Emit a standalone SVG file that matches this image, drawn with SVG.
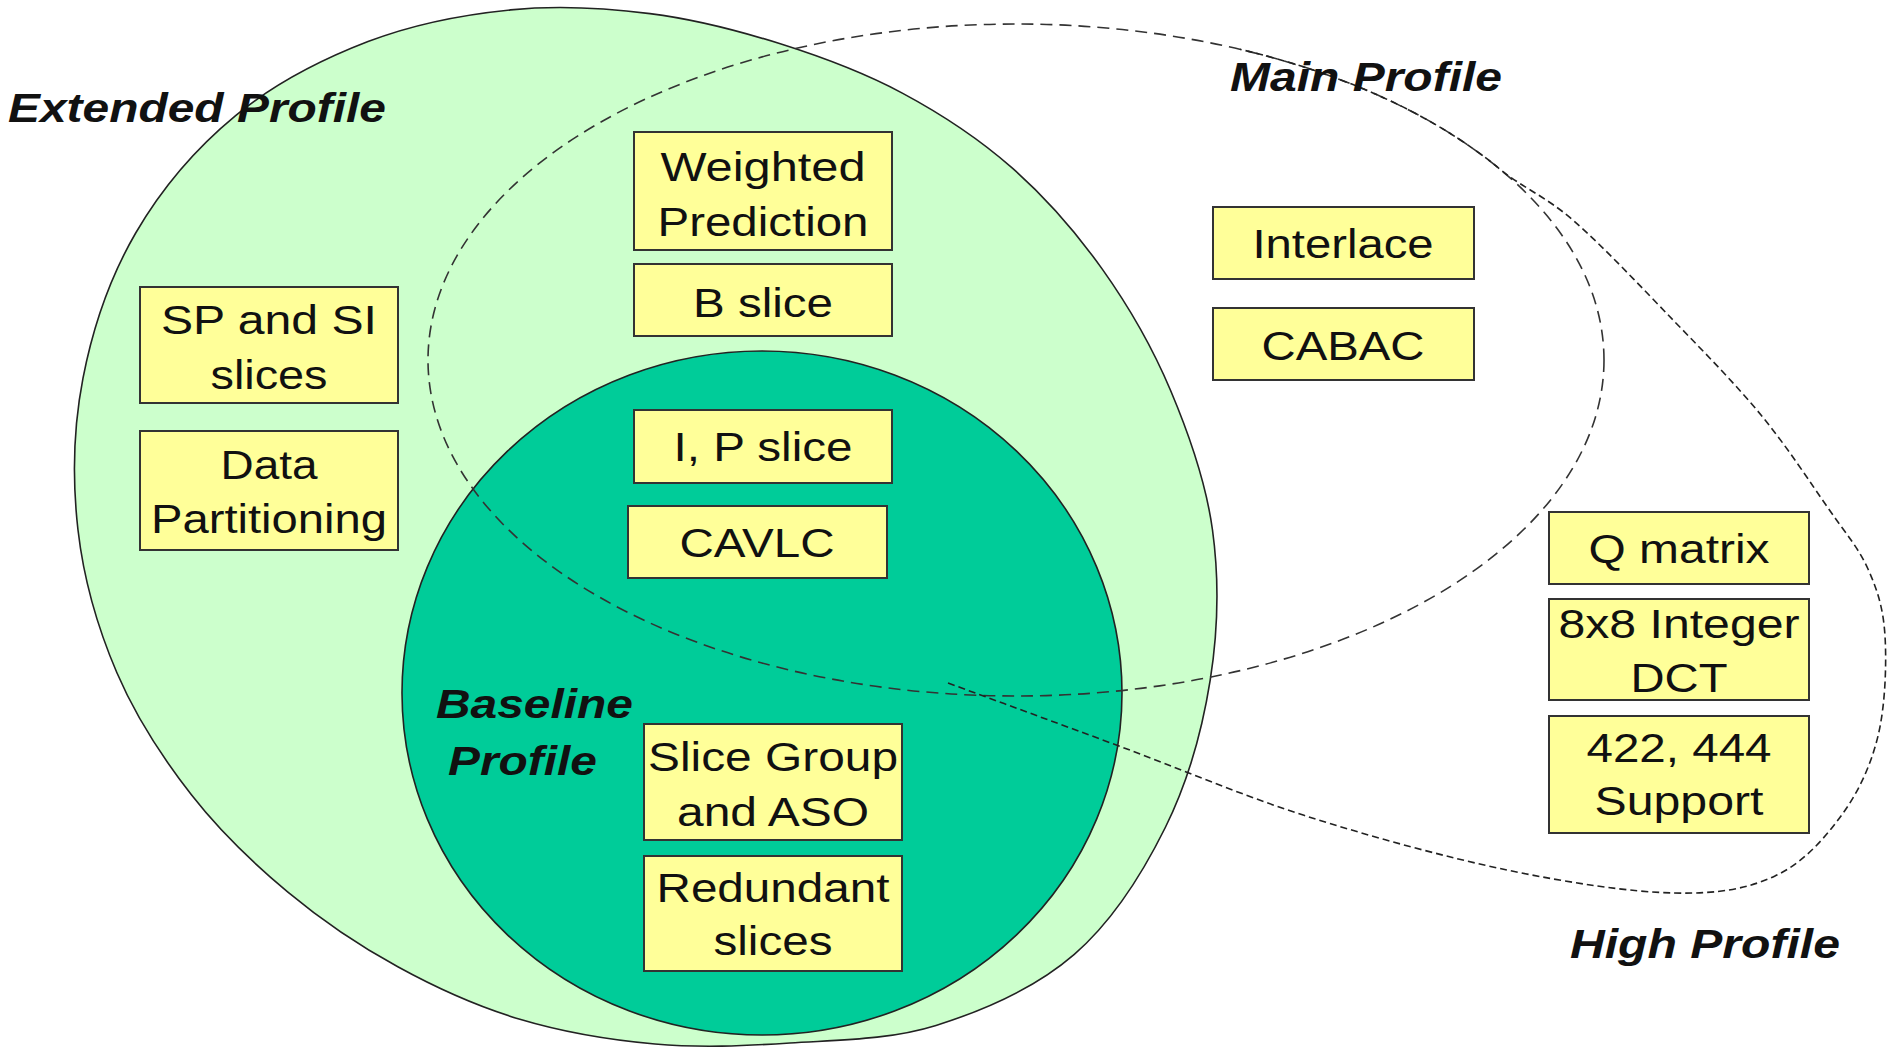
<svg xmlns="http://www.w3.org/2000/svg" width="1887" height="1049" viewBox="0 0 1887 1049">
<style>
.box{fill:#FFFF99;stroke:#333;stroke-width:2}
.t{font-family:"Liberation Sans",Arial,sans-serif;font-size:40px;fill:#111;text-anchor:middle}
.lbl{font-family:"Liberation Sans",Arial,sans-serif;font-size:40px;font-weight:bold;font-style:italic;fill:#111}
.dash{fill:none;stroke:#333;stroke-width:1.6;stroke-dasharray:12 7}
.dash2{fill:none;stroke:#222;stroke-width:1.6;stroke-dasharray:7 4}
</style>
<rect width="1887" height="1049" fill="#ffffff"/>
<g id="regions">
<path id="extended-region" d="M650,13.6 C694.95,19.25 738.25,30.55 780.3,43.8 C822.35,57.05 863.67,72.42 902.3,93.1 C940.93,113.78 978.8,138.6 1012.1,167.9 C1045.4,197.2 1075.68,231.8 1102.1,268.9 C1128.52,306 1152.2,346.98 1170.6,390.5 C1189,434.02 1205.9,481.73 1212.5,530 C1219.1,578.27 1218.07,630.52 1210.2,680.1 C1202.33,729.68 1187.95,781.8 1165.3,827.5 C1142.65,873.2 1112.52,921.32 1074.3,954.3 C1036.08,987.28 983.38,1010.62 936,1025.4 C888.62,1040.18 836.83,1039.9 790,1043 C743.17,1046.1 700.17,1048 655,1044 C609.83,1040 561.87,1031.87 519,1019 C476.13,1006.13 436.32,987.95 397.8,966.8 C359.28,945.68 322.3,920.77 287.9,892.1 C253.5,863.43 219.9,831.35 191.4,794.8 C162.9,758.25 135.8,716.93 116.9,672.8 C98,628.67 83.65,579.12 78,530 C72.35,480.88 73.38,427.6 83,378.1 C92.62,328.6 110.27,276.75 135.7,233 C161.13,189.25 196.88,147.5 235.6,115.6 C274.32,83.7 322.17,59.22 368,41.6 C413.83,23.98 463.6,14.57 510.6,9.9 C557.6,5.23 605.05,7.95 650,13.6 Z" fill="#CCFFCC" stroke="#222" stroke-width="1.6"/>
<ellipse id="baseline-region" cx="762" cy="693" rx="360" ry="342" fill="#00CC99" stroke="#222" stroke-width="1.6"/>
<ellipse id="main-region" class="dash" cx="1016" cy="360" rx="588" ry="336"/>
<path id="high-region" class="dash2" d="M948,683 C1005,704 1059.3,723.8 1119,746 C1178.7,768.2 1241.3,795.3 1306,816 C1370.7,836.7 1445.7,857.2 1507,870 C1568.3,882.8 1629.3,892 1674,893 C1718.7,894 1747.2,888.8 1775,876 C1802.8,863.2 1823.8,839.3 1841,816 C1858.2,792.7 1870.7,766 1878,736 C1885.3,706 1886.7,663.8 1885,636 C1883.3,608.2 1877.5,590.3 1868,569 C1858.5,547.7 1845.8,533.7 1828,508 C1810.2,482.3 1786.7,446.2 1761,415 C1735.3,383.8 1705.2,353.3 1674,321 C1642.8,288.7 1603,246.3 1574,221 C1545,195.7 1523,188.2 1500,169.2 A588,336 0 0 0 1240,49.3"/>
</g>
<g id="connectors"></g>
<g id="labels">
<text class="lbl" x="8" y="122" textLength="378" lengthAdjust="spacingAndGlyphs">Extended Profile</text>
<text class="lbl" x="1230" y="91" textLength="272" lengthAdjust="spacingAndGlyphs">Main Profile</text>
<text class="lbl" x="1570" y="958" textLength="270" lengthAdjust="spacingAndGlyphs">High Profile</text>
<text class="lbl" x="436" y="718" textLength="197" lengthAdjust="spacingAndGlyphs">Baseline</text>
<text class="lbl" x="448" y="775" textLength="149" lengthAdjust="spacingAndGlyphs">Profile</text>
</g>
<g id="sp-si">
<rect class="box" x="140" y="287" width="258" height="116"/>
<text class="t" x="269" y="334" textLength="216" lengthAdjust="spacingAndGlyphs">SP and SI</text>
<text class="t" x="269" y="389" textLength="117" lengthAdjust="spacingAndGlyphs">slices</text>
</g>
<g id="data-partitioning">
<rect class="box" x="140" y="431" width="258" height="119"/>
<text class="t" x="269" y="479" textLength="97" lengthAdjust="spacingAndGlyphs">Data</text>
<text class="t" x="269" y="533" textLength="236" lengthAdjust="spacingAndGlyphs">Partitioning</text>
</g>
<g id="weighted-prediction">
<rect class="box" x="634" y="132" width="258" height="118"/>
<text class="t" x="763" y="181" textLength="205" lengthAdjust="spacingAndGlyphs">Weighted</text>
<text class="t" x="763" y="236" textLength="211" lengthAdjust="spacingAndGlyphs">Prediction</text>
</g>
<g id="b-slice">
<rect class="box" x="634" y="264" width="258" height="72"/>
<text class="t" x="763" y="317" textLength="140" lengthAdjust="spacingAndGlyphs">B slice</text>
</g>
<g id="ip-slice">
<rect class="box" x="634" y="410" width="258" height="73"/>
<text class="t" x="763" y="461" textLength="179" lengthAdjust="spacingAndGlyphs">I, P slice</text>
</g>
<g id="cavlc">
<rect class="box" x="628" y="506" width="259" height="72"/>
<text class="t" x="757" y="557" textLength="155" lengthAdjust="spacingAndGlyphs">CAVLC</text>
</g>
<g id="slice-group">
<rect class="box" x="644" y="724" width="258" height="116"/>
<text class="t" x="773" y="771" textLength="250" lengthAdjust="spacingAndGlyphs">Slice Group</text>
<text class="t" x="773" y="826" textLength="192" lengthAdjust="spacingAndGlyphs">and ASO</text>
</g>
<g id="redundant-slices">
<rect class="box" x="644" y="856" width="258" height="115"/>
<text class="t" x="773" y="902" textLength="233" lengthAdjust="spacingAndGlyphs">Redundant</text>
<text class="t" x="773" y="955" textLength="119" lengthAdjust="spacingAndGlyphs">slices</text>
</g>
<g id="interlace">
<rect class="box" x="1213" y="207" width="261" height="72"/>
<text class="t" x="1343" y="258" textLength="181" lengthAdjust="spacingAndGlyphs">Interlace</text>
</g>
<g id="cabac">
<rect class="box" x="1213" y="308" width="261" height="72"/>
<text class="t" x="1343" y="360" textLength="163" lengthAdjust="spacingAndGlyphs">CABAC</text>
</g>
<g id="q-matrix">
<rect class="box" x="1549" y="512" width="260" height="72"/>
<text class="t" x="1679" y="563" textLength="181" lengthAdjust="spacingAndGlyphs">Q matrix</text>
</g>
<g id="integer-dct">
<rect class="box" x="1549" y="599" width="260" height="101"/>
<text class="t" x="1679" y="638" textLength="241" lengthAdjust="spacingAndGlyphs">8x8 Integer</text>
<text class="t" x="1679" y="692" textLength="97" lengthAdjust="spacingAndGlyphs">DCT</text>
</g>
<g id="support-422-444">
<rect class="box" x="1549" y="716" width="260" height="117"/>
<text class="t" x="1679" y="762" textLength="185" lengthAdjust="spacingAndGlyphs">422, 444</text>
<text class="t" x="1679" y="815" textLength="169" lengthAdjust="spacingAndGlyphs">Support</text>
</g>
</svg>
